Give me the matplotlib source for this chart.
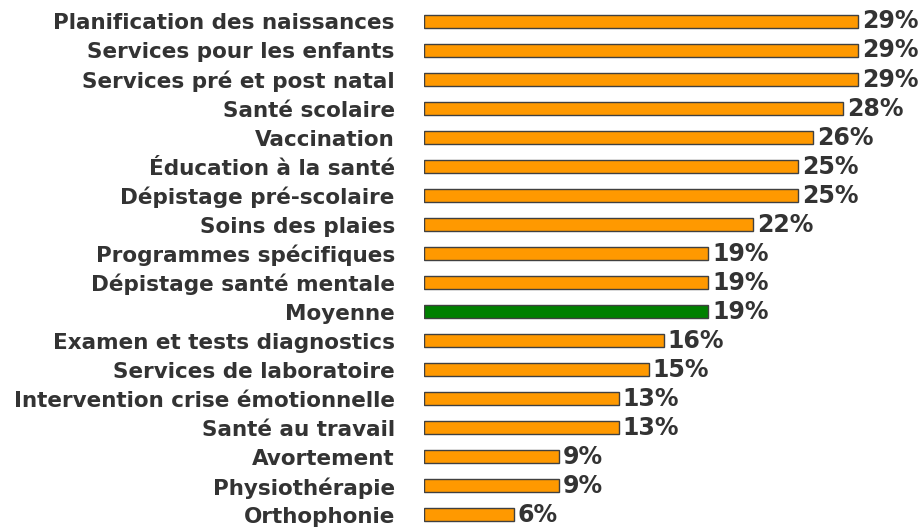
import matplotlib.pyplot as plt
import numpy as np

plt.rcParams['font.family'] = ['DejaVu Sans']

# ===================== 数据 =====================
categories = [
    "Planification des naissances",
    "Services pour les enfants",
    "Services pré et post natal",
    "Santé scolaire",
    "Vaccination",
    "Éducation à la santé",
    "Dépistage pré-scolaire",
    "Soins des plaies",
    "Programmes spécifiques",
    "Dépistage santé mentale",
    "Moyenne",
    "Examen et tests diagnostics",
    "Services de laboratoire",
    "Intervention crise émotionnelle",
    "Santé au travail",
    "Avortement",
    "Physiothérapie",
    "Orthophonie",
]
values = [29, 29, 29, 28, 26, 25, 25, 22, 19, 19, 19, 16, 15, 13, 13, 9, 9, 6]
highlight = "Moyenne"

# ===================== 绘图 =====================
fig = plt.figure(figsize=(9.2, 5.27), dpi=100)
ax = fig.add_axes([424 / 920, 0, 1 - 424 / 920, 1])

y = np.arange(len(categories))
colors = ['#008000' if c == highlight else '#FF9900' for c in categories]
ax.barh(y, values, height=0.45, color=colors, edgecolor='#404040', linewidth=1.0)

for yi, v in zip(y, values):
    ax.annotate(f"{v}%", (v, yi), xytext=(3, 0), textcoords='offset points',
                va='center', ha='left', fontsize=17, fontweight='bold',
                color='#333333')

ax.set_xlim(0, 496 / 14.97)
ax.set_ylim(len(categories) - 1 + 0.42, -0.74)
ax.set_yticks(y)
ax.set_yticklabels(categories, fontsize=15.5, fontweight='bold', color='#333333')
ax.tick_params(axis='y', length=0, pad=21)
ax.set_xticks([])
for s in ax.spines.values():
    s.set_visible(False)

fig.savefig('out.png', dpi=100)
